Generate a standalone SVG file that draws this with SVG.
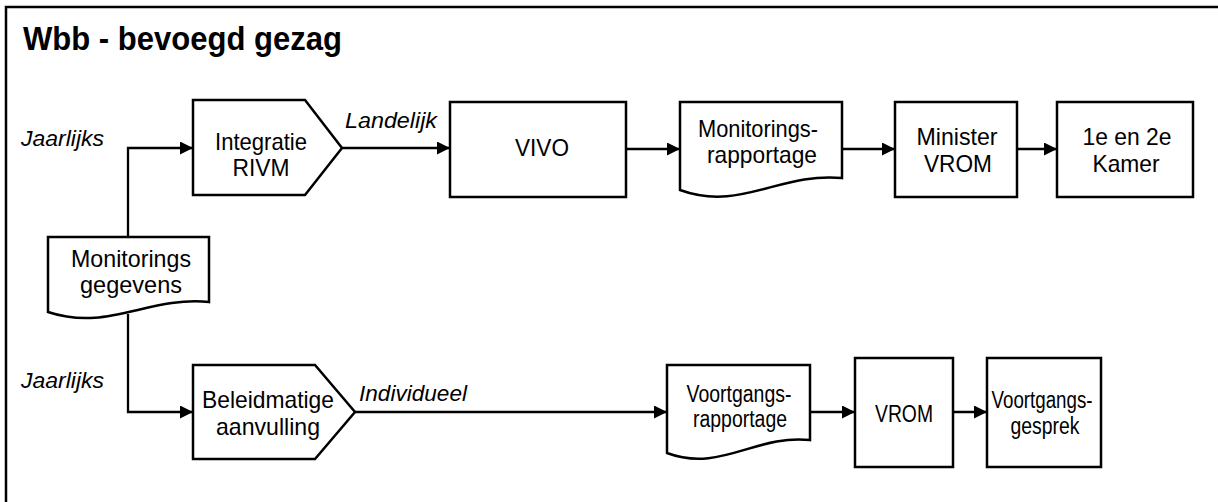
<svg xmlns="http://www.w3.org/2000/svg" width="1218" height="502" viewBox="0 0 1218 502">
<style>
.shape{fill:#fff;stroke:#000;stroke-width:2.5}
.t{font-family:"Liberation Sans",Arial,sans-serif;font-size:24px;fill:#000;text-anchor:middle}
.s{font-size:23px}
.lbl{font-family:"Liberation Sans",Arial,sans-serif;font-size:22px;font-style:italic;fill:#000}
.title{font-family:"Liberation Sans",Arial,sans-serif;font-size:33px;font-weight:bold;fill:#000}
.conn path{fill:none;stroke:#000;stroke-width:2.3}
</style>
<defs>
<marker id="arr" markerUnits="userSpaceOnUse" markerWidth="14" markerHeight="13" refX="13" refY="6.5" orient="auto">
<path d="M0,0 L13,6.5 L0,13 Z" fill="#000"/>
</marker>
</defs>
<rect x="0" y="0" width="1218" height="502" fill="#fff"/>
<rect id="frame" x="6" y="7" width="1300" height="600" fill="none" stroke="#000" stroke-width="2.5"/>
<text class="title" x="23" y="50" textLength="319" lengthAdjust="spacingAndGlyphs">Wbb - bevoegd gezag</text>

<g id="labels">
<text class="lbl" x="21" y="146" textLength="83" lengthAdjust="spacingAndGlyphs">Jaarlijks</text>
<text class="lbl" x="21" y="388" textLength="83" lengthAdjust="spacingAndGlyphs">Jaarlijks</text>
<text class="lbl" x="345" y="128" textLength="92" lengthAdjust="spacingAndGlyphs">Landelijk</text>
<text class="lbl" x="359" y="401" textLength="108" lengthAdjust="spacingAndGlyphs">Individueel</text>
</g>

<g class="conn" id="connectors">
<path d="M128,237 V148 H193" marker-end="url(#arr)"/>
<path d="M128,314 V412 H193" marker-end="url(#arr)"/>
<path d="M342,148 H450" marker-end="url(#arr)"/>
<path d="M626,149 H680" marker-end="url(#arr)"/>
<path d="M842,149 H895" marker-end="url(#arr)"/>
<path d="M1017,149 H1057" marker-end="url(#arr)"/>
<path d="M355,412 H667" marker-end="url(#arr)"/>
<path d="M810,412 H855" marker-end="url(#arr)"/>
<path d="M953,412 H987" marker-end="url(#arr)"/>
</g>

<g id="monitoringsgegevens">
<path class="shape" d="M48,237 H209 V302 C148,296 108,332 48,312 Z"/>
<text class="t" x="131" y="267" textLength="120" lengthAdjust="spacingAndGlyphs">Monitorings</text>
<text class="t" x="131" y="293" textLength="102" lengthAdjust="spacingAndGlyphs">gegevens</text>
</g>

<g id="integratie">
<path class="shape" d="M193,100 H305 L342,148 L305,195 H193 Z"/>
<text class="t" x="261" y="150" textLength="92" lengthAdjust="spacingAndGlyphs">Integratie</text>
<text class="t" x="261" y="176" textLength="57" lengthAdjust="spacingAndGlyphs">RIVM</text>
</g>

<g id="vivo">
<rect class="shape" x="450" y="102" width="176" height="95"/>
<text class="t" x="542" y="156" textLength="54" lengthAdjust="spacingAndGlyphs">VIVO</text>
</g>

<g id="monitoringsrapportage">
<path class="shape" d="M680,102 H842 V178 C780,172 740,212 680,190 Z"/>
<text class="t" x="758" y="137" textLength="120" lengthAdjust="spacingAndGlyphs">Monitorings-</text>
<text class="t" x="762" y="163" textLength="110" lengthAdjust="spacingAndGlyphs">rapportage</text>
</g>

<g id="ministervrom">
<rect class="shape" x="895" y="102" width="122" height="95"/>
<text class="t" x="957" y="145" textLength="81" lengthAdjust="spacingAndGlyphs">Minister</text>
<text class="t" x="958" y="172" textLength="68" lengthAdjust="spacingAndGlyphs">VROM</text>
</g>

<g id="kamer">
<rect class="shape" x="1057" y="102" width="136" height="95"/>
<text class="t" x="1127" y="145" textLength="89" lengthAdjust="spacingAndGlyphs">1e en 2e</text>
<text class="t" x="1126" y="172" textLength="67" lengthAdjust="spacingAndGlyphs">Kamer</text>
</g>

<g id="beleidmatige">
<path class="shape" d="M193,365 H315 L355,412 L315,459 H193 Z"/>
<text class="t" x="268" y="408" textLength="132" lengthAdjust="spacingAndGlyphs">Beleidmatige</text>
<text class="t" x="268" y="435" textLength="104" lengthAdjust="spacingAndGlyphs">aanvulling</text>
</g>

<g id="voortgangsrapportage">
<path class="shape" d="M667,365 H810 V440 C756,434 720,473 667,453 Z"/>
<text class="t s" x="739" y="402" textLength="105" lengthAdjust="spacingAndGlyphs">Voortgangs-</text>
<text class="t s" x="740" y="427" textLength="94" lengthAdjust="spacingAndGlyphs">rapportage</text>
</g>

<g id="vrom">
<rect class="shape" x="855" y="358" width="98" height="109"/>
<text class="t s" x="904" y="422" textLength="58" lengthAdjust="spacingAndGlyphs">VROM</text>
</g>

<g id="voortgangsgesprek">
<rect class="shape" x="987" y="358" width="114" height="109"/>
<text class="t s" x="1042" y="408" textLength="101" lengthAdjust="spacingAndGlyphs">Voortgangs-</text>
<text class="t s" x="1045" y="434" textLength="69" lengthAdjust="spacingAndGlyphs">gesprek</text>
</g>
</svg>
